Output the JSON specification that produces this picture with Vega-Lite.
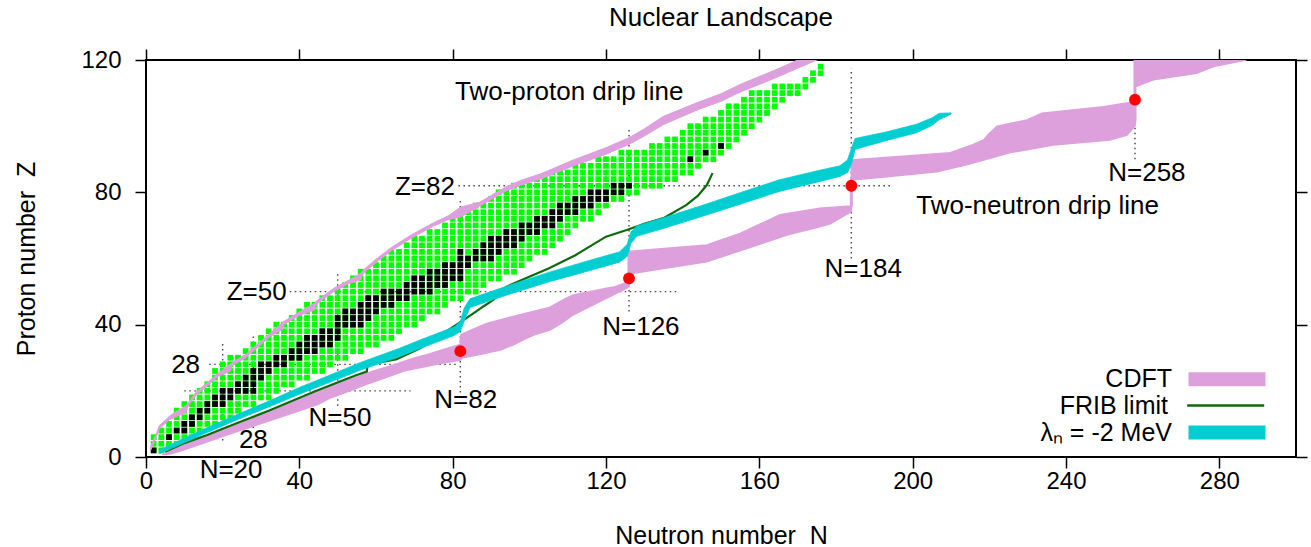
{
  "$schema": "https://vega.github.io/schema/vega-lite/v6.json",
  "width": 1150,
  "height": 397,
  "autosize": {"type": "none"},
  "padding": {"left": 146, "top": 60, "right": 15, "bottom": 90},
  "background": "white",
  "title": {"text": "Nuclear Landscape", "fontSize": 26, "font": "Liberation Sans", "fontWeight": "normal", "color": "#000", "anchor": "middle", "frame": "group", "offset": 17},
  "config": {
    "font": "Liberation Sans",
    "view": {"stroke": "#000", "strokeWidth": 2},
    "axis": {"labelFont": "Liberation Sans", "labelFontSize": 24, "labelColor": "#000", "titleFont": "Liberation Sans", "titleFontSize": 25, "titleFontWeight": "normal", "titleColor": "#000", "tickColor": "#000", "tickWidth": 1.5, "tickSize": 11, "domain": false, "grid": false}
  },
  "resolve": {"axis": {"x": "independent", "y": "independent"}},
  "datasets": {
    "known": [
      {"Z":2,"N":[2,4,6]},
      {"Z":4,"N":[2,4,6,8]},
      {"Z":6,"N":[2,4,6,8,10,12]},
      {"Z":8,"N":[4,6,8,10,12,14]},
      {"Z":10,"N":[6,8,10,12,14,16,18]},
      {"Z":12,"N":[8,10,12,14,16,18,20,22]},
      {"Z":14,"N":[8,10,12,14,16,18,20,22,24]},
      {"Z":16,"N":[10,12,14,16,18,20,22,24,26,28]},
      {"Z":18,"N":[12,14,16,18,20,22,24,26,28,30,32]},
      {"Z":20,"N":[14,16,18,20,22,24,26,28,30,32,34]},
      {"Z":22,"N":[16,18,20,22,24,26,28,30,32,34,36,38]},
      {"Z":24,"N":[18,20,22,24,26,28,30,32,34,36,38,40,42]},
      {"Z":26,"N":[18,20,22,24,26,28,30,32,34,36,38,40,42,44,46]},
      {"Z":28,"N":[20,22,24,26,28,30,32,34,36,38,40,42,44,46,48]},
      {"Z":30,"N":[22,24,26,28,30,32,34,36,38,40,42,44,46,48,50,52]},
      {"Z":32,"N":[26,28,30,32,34,36,38,40,42,44,46,48,50,52,54,56]},
      {"Z":34,"N":[28,30,32,34,36,38,40,42,44,46,48,50,52,54,56,58,60]},
      {"Z":36,"N":[30,32,34,36,38,40,42,44,46,48,50,52,54,56,58,60,62,64]},
      {"Z":38,"N":[32,34,36,38,40,42,44,46,48,50,52,54,56,58,60,62,64,66]},
      {"Z":40,"N":[34,36,38,40,42,44,46,48,50,52,54,56,58,60,62,64,66,68,70]},
      {"Z":42,"N":[38,40,42,44,46,48,50,52,54,56,58,60,62,64,66,68,70,72]},
      {"Z":44,"N":[40,42,44,46,48,50,52,54,56,58,60,62,64,66,68,70,72,74,76]},
      {"Z":46,"N":[42,44,46,48,50,52,54,56,58,60,62,64,66,68,70,72,74,76,78]},
      {"Z":48,"N":[46,48,50,52,54,56,58,60,62,64,66,68,70,72,74,76,78,80,82]},
      {"Z":50,"N":[50,52,54,56,58,60,62,64,66,68,70,72,74,76,78,80,82,84,86]},
      {"Z":52,"N":[52,54,56,58,60,62,64,66,68,70,72,74,76,78,80,82,84,86,88]},
      {"Z":54,"N":[54,56,58,60,62,64,66,68,70,72,74,76,78,80,82,84,86,88,90,92]},
      {"Z":56,"N":[56,58,60,62,64,66,68,70,72,74,76,78,80,82,84,86,88,90,92,94,96]},
      {"Z":58,"N":[60,62,64,66,68,70,72,74,76,78,80,82,84,86,88,90,92,94,96,98]},
      {"Z":60,"N":[62,64,66,68,70,72,74,76,78,80,82,84,86,88,90,92,94,96,98,100]},
      {"Z":62,"N":[64,66,68,70,72,74,76,78,80,82,84,86,88,90,92,94,96,98,100,102,104]},
      {"Z":64,"N":[68,70,72,74,76,78,80,82,84,86,88,90,92,94,96,98,100,102,104,106]},
      {"Z":66,"N":[70,72,74,76,78,80,82,84,86,88,90,92,94,96,98,100,102,104,106,108]},
      {"Z":68,"N":[74,76,78,80,82,84,86,88,90,92,94,96,98,100,102,104,106,108,110]},
      {"Z":70,"N":[78,80,82,84,86,88,90,92,94,96,98,100,102,104,106,108,110,112]},
      {"Z":72,"N":[80,82,84,86,88,90,92,94,96,98,100,102,104,106,108,110,112,114,116]},
      {"Z":74,"N":[84,86,88,90,92,94,96,98,100,102,104,106,108,110,112,114,116,118]},
      {"Z":76,"N":[86,88,90,92,94,96,98,100,102,104,106,108,110,112,114,116,118,120]},
      {"Z":78,"N":[90,92,94,96,98,100,102,104,106,108,110,112,114,116,118,120,122,124]},
      {"Z":80,"N":[92,94,96,98,100,102,104,106,108,110,112,114,116,118,120,122,124,126,128]},
      {"Z":82,"N":[96,98,100,102,104,106,108,110,112,114,116,118,120,122,124,126,128,130,132,134]},
      {"Z":84,"N":[102,104,106,108,110,112,114,116,118,120,122,124,126,128,130,132,134,136,138]},
      {"Z":86,"N":[106,108,110,112,114,116,118,120,122,124,126,128,130,132,134,136,138,140,142]},
      {"Z":88,"N":[112,114,116,118,120,122,124,126,128,130,132,134,136,138,140,142,144]},
      {"Z":90,"N":[118,120,122,124,126,128,130,132,134,136,138,140,142,144,146,148]},
      {"Z":92,"N":[124,126,128,130,132,134,136,138,140,142,144,146,148,150]},
      {"Z":94,"N":[132,134,136,138,140,142,144,146,148,150,152]},
      {"Z":96,"N":[136,138,140,142,144,146,148,150,152,154]},
      {"Z":98,"N":[140,142,144,146,148,150,152,154,156]},
      {"Z":100,"N":[142,144,146,148,150,152,154,156,158]},
      {"Z":102,"N":[146,148,150,152,154,156,158,160]},
      {"Z":104,"N":[150,152,154,156,158,160,162]},
      {"Z":106,"N":[152,154,156,158,160,162,164]},
      {"Z":108,"N":[156,158,160,162,164,166]},
      {"Z":110,"N":[158,160,162,164,166,168,170]},
      {"Z":112,"N":[164,166,168,170,172]},
      {"Z":114,"N":[172,174]},
      {"Z":116,"N":[174,176]},
      {"Z":118,"N":[176]}
    ],
    "stable": [
      {"Z":2,"N":[2]},
      {"Z":6,"N":[6]},
      {"Z":8,"N":[8,10]},
      {"Z":10,"N":[10,12]},
      {"Z":12,"N":[12,14]},
      {"Z":14,"N":[14,16]},
      {"Z":16,"N":[16,18,20]},
      {"Z":18,"N":[18,20,22]},
      {"Z":20,"N":[20,22,24,26,28]},
      {"Z":22,"N":[24,26,28]},
      {"Z":24,"N":[26,28,30]},
      {"Z":26,"N":[28,30,32]},
      {"Z":28,"N":[30,32,34,36]},
      {"Z":30,"N":[34,36,38,40]},
      {"Z":32,"N":[38,40,42,44]},
      {"Z":34,"N":[40,42,44,46,48]},
      {"Z":36,"N":[42,44,46,48,50]},
      {"Z":38,"N":[46,48,50]},
      {"Z":40,"N":[50,52,54,56]},
      {"Z":42,"N":[50,52,54,56,58]},
      {"Z":44,"N":[52,54,56,58,60]},
      {"Z":46,"N":[56,58,60,62,64]},
      {"Z":48,"N":[58,60,62,64,66,68]},
      {"Z":50,"N":[62,64,66,68,70,72,74]},
      {"Z":52,"N":[68,70,72,74,76,78]},
      {"Z":54,"N":[70,72,74,76,78,80,82]},
      {"Z":56,"N":[74,76,78,80,82]},
      {"Z":58,"N":[78,80,82,84]},
      {"Z":60,"N":[82,84,86,88,90]},
      {"Z":62,"N":[82,86,88,90,92]},
      {"Z":64,"N":[88,90,92,94,96]},
      {"Z":66,"N":[90,92,94,96,98]},
      {"Z":68,"N":[94,96,98,100,102]},
      {"Z":70,"N":[98,100,102,104,106]},
      {"Z":72,"N":[102,104,106,108]},
      {"Z":74,"N":[106,108,110,112]},
      {"Z":76,"N":[108,110,112,114,116]},
      {"Z":78,"N":[112,114,116,118,120]},
      {"Z":80,"N":[116,118,120,122,124]},
      {"Z":82,"N":[122,124,126]},
      {"Z":90,"N":[142]},
      {"Z":92,"N":[146]},
      {"Z":94,"N":[150]}
    ],
    "twoProton": [
      {"N":1.2,"lo":2.0,"hi":3.2},{"N":2.5,"lo":5.5,"hi":6.5},{"N":3.5,"lo":8.5,"hi":9.5},
      {"N":6,"lo":11.2,"hi":12.2},{"N":7.5,"lo":12,"hi":13.5},{"N":10.5,"lo":13.5,"hi":15.5},
      {"N":11,"lo":15.4,"hi":16.4},{"N":13,"lo":18.6,"hi":19.6},{"N":16,"lo":21.5,"hi":22.5},
      {"N":19,"lo":24.5,"hi":25.5},{"N":22,"lo":26,"hi":28},{"N":22.5,"lo":27.6,"hi":28.6},
      {"N":26,"lo":30,"hi":31},{"N":30,"lo":34,"hi":35},{"N":32.5,"lo":36.5,"hi":37.5},
      {"N":35.5,"lo":38.5,"hi":40.5},{"N":36,"lo":40,"hi":41},{"N":40,"lo":42.8,"hi":43.8},
      {"N":44,"lo":44.5,"hi":46.5},{"N":44.5,"lo":46.2,"hi":47.2},{"N":49,"lo":50,"hi":51},
      {"N":53,"lo":52.5,"hi":53.5},{"N":56,"lo":53.5,"hi":55.5},{"N":56.5,"lo":55.3,"hi":56.3},
      {"N":60,"lo":58.8,"hi":59.8},{"N":64,"lo":62.3,"hi":63.3},{"N":69,"lo":66,"hi":67},
      {"N":75,"lo":69.8,"hi":70.8},{"N":79,"lo":71.8,"hi":73},{"N":82,"lo":72.5,"hi":75.5},
      {"N":87,"lo":75.8,"hi":77},{"N":94,"lo":80.5,"hi":81.7},{"N":98,"lo":82.3,"hi":83.7},
      {"N":103,"lo":84,"hi":85.6},{"N":111.5,"lo":88,"hi":89.8},{"N":120,"lo":91.5,"hi":93.5},
      {"N":126,"lo":94.5,"hi":96.5},{"N":130,"lo":97,"hi":99.2},{"N":135,"lo":100.5,"hi":103},
      {"N":144,"lo":105,"hi":107.2},{"N":150,"lo":107.5,"hi":109.8},{"N":155,"lo":110.3,"hi":112.6},
      {"N":160,"lo":112.6,"hi":115},{"N":165,"lo":115,"hi":117.4},{"N":170,"lo":117.5,"hi":120},
      {"N":176,"lo":120.5,"hi":123}
    ],
    "twoNeutron": [
      {"Z":0.8,"lo":4.2,"hi":6},{"Z":2,"lo":6.5,"hi":9.5},{"Z":4,"lo":10.3,"hi":14.5},
      {"Z":6,"lo":15.4,"hi":19.5},{"Z":8,"lo":19.8,"hi":24.5},{"Z":10,"lo":24.3,"hi":29.6},
      {"Z":12,"lo":28.7,"hi":34.9},{"Z":14,"lo":32.9,"hi":40},{"Z":16,"lo":37.2,"hi":45},
      {"Z":18,"lo":41.5,"hi":48.4},{"Z":20,"lo":45.4,"hi":53.2},{"Z":22,"lo":49.7,"hi":57.5},
      {"Z":24,"lo":54.6,"hi":62.6},{"Z":26,"lo":59.4,"hi":67.2},{"Z":28,"lo":65,"hi":75.8},
      {"Z":29.3,"lo":68.4,"hi":82},{"Z":30,"lo":70.2,"hi":82.7},{"Z":31,"lo":73.5,"hi":87},
      {"Z":32.3,"lo":77,"hi":92.4},{"Z":33.3,"lo":80,"hi":94.5},{"Z":34,"lo":82,"hi":96},
      {"Z":36,"lo":82,"hi":99.5},{"Z":37,"lo":82.2,"hi":101.5},{"Z":38.4,"lo":84.9,"hi":105.4},
      {"Z":40.4,"lo":88.9,"hi":108.3},{"Z":43,"lo":97.6,"hi":111.5},{"Z":45.3,"lo":105.4,"hi":115.5},
      {"Z":48,"lo":109.6,"hi":120.2},{"Z":49,"lo":111.5,"hi":121.9},{"Z":51,"lo":120.2,"hi":125.3},
      {"Z":51.5,"lo":122.4,"hi":126},{"Z":53,"lo":125.8,"hi":126.4},{"Z":55.5,"lo":125.8,"hi":126.8},
      {"Z":57,"lo":125.8,"hi":135},{"Z":59,"lo":125.8,"hi":146.3},{"Z":62.1,"lo":125.8,"hi":154.3},
      {"Z":64.1,"lo":146.3,"hi":159.5},{"Z":67.1,"lo":153.8,"hi":167.2},{"Z":67.6,"lo":155,"hi":169},
      {"Z":69.6,"lo":158.7,"hi":175.8},{"Z":70.5,"lo":160.4,"hi":178.5},{"Z":73.2,"lo":165.4,"hi":182.5},
      {"Z":74.2,"lo":170.6,"hi":184},{"Z":75.2,"lo":175.8,"hi":184},{"Z":75.9,"lo":183.8,"hi":184.2},
      {"Z":83.7,"lo":183.8,"hi":184.2},{"Z":84.7,"lo":184,"hi":193.3},{"Z":86.2,"lo":184,"hi":206.3},
      {"Z":88.3,"lo":184,"hi":214.1},{"Z":89.8,"lo":184,"hi":218.5},{"Z":92,"lo":209.8,"hi":225.5},
      {"Z":94.3,"lo":215.5,"hi":236.7},{"Z":95.8,"lo":218.5,"hi":251.5},{"Z":97.3,"lo":219.6,"hi":255.9},
      {"Z":100,"lo":222,"hi":258},{"Z":101.9,"lo":229.8,"hi":258.2},{"Z":103.9,"lo":233.7,"hi":258.2},
      {"Z":105.9,"lo":249.8,"hi":258.2},{"Z":107.4,"lo":257.8,"hi":258.2},{"Z":112,"lo":257.8,"hi":258.2},
      {"Z":114,"lo":257.8,"hi":262.8},{"Z":116,"lo":257.8,"hi":274.1},{"Z":118,"lo":257.8,"hi":278.5},
      {"Z":120,"lo":257.8,"hi":287}
    ],
    "lambda": [
      {"N":3.5,"lo":1.0,"hi":2.2},{"N":10,"lo":4.3,"hi":5.7},{"N":16,"lo":7.4,"hi":8.9},
      {"N":24.5,"lo":11.6,"hi":13.2},{"N":33,"lo":15.6,"hi":17.4},{"N":40,"lo":19.0,"hi":21.0},
      {"N":50.6,"lo":23.8,"hi":26},{"N":56,"lo":26.3,"hi":28.6},{"N":66,"lo":30.3,"hi":32.8},
      {"N":72,"lo":33,"hi":35.6},{"N":80.5,"lo":36.8,"hi":39.4},{"N":82,"lo":38,"hi":41},
      {"N":83,"lo":41,"hi":45},{"N":84.5,"lo":45.2,"hi":47.8},{"N":95,"lo":49.3,"hi":52},
      {"N":105,"lo":52.9,"hi":55.8},{"N":115,"lo":56.1,"hi":59.2},{"N":123.5,"lo":58.9,"hi":62},
      {"N":125.5,"lo":60.6,"hi":64.2},{"N":126.5,"lo":64.5,"hi":68},{"N":128,"lo":66.7,"hi":69.8},
      {"N":135,"lo":69.1,"hi":72.3},{"N":145,"lo":72.7,"hi":76},{"N":155,"lo":76.4,"hi":79.9},
      {"N":165,"lo":80.2,"hi":83.7},{"N":175.8,"lo":83.3,"hi":86.7},{"N":181,"lo":84.8,"hi":88},
      {"N":183,"lo":86,"hi":89.8},{"N":184,"lo":88.5,"hi":93.2},{"N":185,"lo":93,"hi":96.3},
      {"N":193,"lo":95.6,"hi":98.2},{"N":201,"lo":98,"hi":100.6},{"N":205,"lo":100.2,"hi":102.5},
      {"N":207,"lo":102,"hi":103.9},{"N":210,"lo":103.6,"hi":104}
    ],
    "frib": [
      {"N":5,"Z":1.6},{"N":10,"Z":4.2},{"N":15.8,"Z":6.6},{"N":21,"Z":9},{"N":27,"Z":11.7},
      {"N":32,"Z":14},{"N":37.6,"Z":16.7},{"N":44,"Z":19.8},{"N":50.6,"Z":22.8},{"N":55,"Z":24.8},
      {"N":57.6,"Z":25.8},{"N":57.8,"Z":28},{"N":61,"Z":28.6},{"N":65.4,"Z":29.6},{"N":71.5,"Z":32.9},
      {"N":75,"Z":35.4},{"N":80.2,"Z":39.4},{"N":83,"Z":41.5},{"N":85.4,"Z":43.4},{"N":88,"Z":45.5},
      {"N":90.6,"Z":47.5},{"N":94.1,"Z":51.5},{"N":98,"Z":53.5},{"N":105,"Z":57},{"N":112,"Z":61},
      {"N":120,"Z":66.6},{"N":125.4,"Z":68.6},{"N":130,"Z":70.5},{"N":135,"Z":72.2},{"N":141,"Z":76.2},
      {"N":144,"Z":79},{"N":146.3,"Z":82.2},{"N":147.8,"Z":85.8}
    ],
    "magic": [
      {"n1":10,"z1":20,"n2":69,"z2":20},
      {"n1":16.5,"z1":28,"n2":81,"z2":28},
      {"n1":37.5,"z1":50,"n2":139,"z2":50},
      {"n1":81.5,"z1":82,"n2":195,"z2":82},
      {"n1":20,"z1":5,"n2":20,"z2":35},
      {"n1":28,"z1":8.8,"n2":28,"z2":37},
      {"n1":50,"z1":15.5,"n2":50,"z2":55.5},
      {"n1":82,"z1":19.5,"n2":82,"z2":78},
      {"n1":126,"z1":44,"n2":126,"z2":99.5},
      {"n1":184,"z1":60,"n2":184,"z2":117.5},
      {"n1":258,"z1":90,"n2":258,"z2":120}
    ],
    "dots": [
      {"N":82,"Z":32},{"N":126,"Z":54},{"N":184,"Z":82},{"N":258,"Z":108}
    ],
    "labelsCenter": [
      {"N":110.4,"Z":110.2,"t":"Two-proton drip line"},
      {"N":232.6,"Z":75.8,"t":"Two-neutron drip line"},
      {"N":28,"Z":5.1,"t":"28"},
      {"N":22.2,"Z":-3.9,"t":"N=20"},
      {"N":50.6,"Z":11.7,"t":"N=50"},
      {"N":83.4,"Z":17.2,"t":"N=82"},
      {"N":129.1,"Z":39.3,"t":"N=126"},
      {"N":187.1,"Z":56.8,"t":"N=184"},
      {"N":261.1,"Z":85.9,"t":"N=258"}
    ],
    "labelsRight": [
      {"N":80.6,"Z":81.6,"t":"Z=82"},
      {"N":36.7,"Z":50,"t":"Z=50"},
      {"N":14.1,"Z":27.8,"t":"28"}
    ]
  },
  "layer": [
    {
      "data": {"name": "magic"},
      "mark": {"type": "rule", "strokeDash": [1.5, 3.5], "color": "#444", "strokeWidth": 1.4},
      "encoding": {
        "x": {"field": "n1", "type": "quantitative", "scale": {"domain": [0, 300], "nice": false, "zero": false}, "axis": {"orient": "bottom", "values": [0,40,80,120,160,200,240,280], "title": "Neutron number\u00a0\u00a0N", "labelPadding": 1, "titlePadding": 30, "labelFlush": false, "labelOverlap": false}},
        "x2": {"field": "n2"},
        "y": {"field": "z1", "type": "quantitative", "scale": {"domain": [0, 120], "nice": false, "zero": false}, "axis": {"orient": "left", "values": [0,40,80,120], "title": "Proton number\u00a0\u00a0Z", "labelPadding": 14, "titlePadding": 41, "labelFlush": false}},
        "y2": {"field": "z2"}
      }
    },
    {
      "data": {"name": "known"},
      "transform": [{"flatten": ["N"]}],
      "mark": {"type": "square", "size": 33, "color": "#00ff00", "opacity": 1, "strokeWidth": 0},
      "encoding": {
        "x": {"field": "N", "type": "quantitative", "scale": {"domain": [0, 300], "nice": false, "zero": false}, "axis": {"orient": "top", "values": [0,40,80,120,160,200,240,280], "labels": false, "title": null}},
        "y": {"field": "Z", "type": "quantitative", "scale": {"domain": [0, 120], "nice": false, "zero": false}, "axis": {"orient": "right", "values": [0,40,80,120], "labels": false, "title": null}}
      }
    },
    {
      "data": {"name": "stable"},
      "transform": [{"flatten": ["N"]}],
      "mark": {"type": "square", "size": 33, "color": "#000000", "opacity": 1, "strokeWidth": 0},
      "encoding": {
        "x": {"field": "N", "type": "quantitative", "scale": {"domain": [0, 300], "nice": false, "zero": false}, "axis": null},
        "y": {"field": "Z", "type": "quantitative", "scale": {"domain": [0, 120], "nice": false, "zero": false}, "axis": null}
      }
    },
    {
      "data": {"name": "twoProton"},
      "mark": {"type": "area", "orient": "vertical", "clip": true, "stroke": "#dda0dd", "strokeWidth": 1, "opacity": 1},
      "encoding": {
        "x": {"field": "N", "type": "quantitative", "scale": {"domain": [0, 300], "nice": false, "zero": false}, "axis": null},
        "y": {"field": "lo", "type": "quantitative", "scale": {"domain": [0, 120], "nice": false, "zero": false}, "axis": null},
        "y2": {"field": "hi"},
        "fill": {"datum": "CDFT", "type": "nominal", "scale": {"domain": ["CDFT"], "range": ["#dda0dd"]},
          "legend": {"title": null, "orient": "none", "legendX": 1068.5, "legendY": 306.7, "direction": "vertical", "labelFont": "Liberation Sans", "labelFontSize": 25, "labelColor": "#000", "labelAlign": "right", "labelOffset": -67.5, "labelBaseline": "middle", "labelLimit": 400, "symbolSize": 100, "padding": 0, "symbolType": "M-7.7,-1.4H7.7V1.4H-7.7Z", "symbolStrokeWidth": 0, "symbolOpacity": 1}
        }
      }
    },
    {
      "data": {"name": "twoNeutron"},
      "mark": {"type": "area", "orient": "horizontal", "clip": true, "stroke": "#dda0dd", "strokeWidth": 1.5, "opacity": 1},
      "encoding": {
        "y": {"field": "Z", "type": "quantitative", "scale": {"domain": [0, 120], "nice": false, "zero": false}, "axis": null},
        "x": {"field": "lo", "type": "quantitative", "scale": {"domain": [0, 300], "nice": false, "zero": false}, "axis": null},
        "x2": {"field": "hi"},
        "fill": {"datum": "CDFT", "type": "nominal", "scale": {"domain": ["CDFT"], "range": ["#dda0dd"]},
          "legend": {"title": null, "orient": "none", "legendX": 1068.5, "legendY": 306.7, "direction": "vertical", "labelFont": "Liberation Sans", "labelFontSize": 25, "labelColor": "#000", "labelAlign": "right", "labelOffset": -67.5, "labelBaseline": "middle", "labelLimit": 400, "symbolSize": 100, "padding": 0, "symbolType": "M-7.7,-1.4H7.7V1.4H-7.7Z", "symbolStrokeWidth": 0, "symbolOpacity": 1}
        }
      }
    },
    {
      "data": {"name": "frib"},
      "mark": {"type": "line", "strokeWidth": 2.2, "clip": true},
      "encoding": {
        "x": {"field": "N", "type": "quantitative", "scale": {"domain": [0, 300], "nice": false, "zero": false}, "axis": null},
        "y": {"field": "Z", "type": "quantitative", "scale": {"domain": [0, 120], "nice": false, "zero": false}, "axis": null},
        "stroke": {"datum": "FRIB limit", "type": "nominal", "scale": {"domain": ["FRIB limit"], "range": ["#0b6b0b"]},
          "legend": {"title": null, "orient": "none", "legendX": 1067.2, "legendY": 333, "direction": "vertical", "labelFont": "Liberation Sans", "labelFontSize": 25, "labelColor": "#000", "labelAlign": "right", "labelOffset": -70.2, "labelBaseline": "middle", "labelLimit": 400, "symbolSize": 100, "padding": 0, "symbolType": "M-7.7,0H7.7", "symbolStrokeWidth": 2.7, "symbolOpacity": 1}
        }
      }
    },
    {
      "data": {"name": "lambda"},
      "mark": {"type": "area", "orient": "vertical", "clip": true, "stroke": "#00ced1", "strokeWidth": 0.8, "opacity": 1},
      "encoding": {
        "x": {"field": "N", "type": "quantitative", "scale": {"domain": [0, 300], "nice": false, "zero": false}, "axis": null},
        "y": {"field": "lo", "type": "quantitative", "scale": {"domain": [0, 120], "nice": false, "zero": false}, "axis": null},
        "y2": {"field": "hi"},
        "color": {"datum": "λₙ = -2 MeV", "type": "nominal", "scale": {"domain": ["λₙ = -2 MeV"], "range": ["#00ced1"]},
          "legend": {"title": null, "orient": "none", "legendX": 1068.5, "legendY": 360, "direction": "vertical", "labelFont": "Liberation Sans", "labelFontSize": 25, "labelColor": "#000", "labelAlign": "right", "labelOffset": -67.5, "labelBaseline": "middle", "labelLimit": 400, "symbolSize": 100, "padding": 0, "symbolType": "M-7.7,-1.4H7.7V1.4H-7.7Z", "symbolStrokeWidth": 0, "symbolOpacity": 1}
        }
      }
    },
    {
      "data": {"name": "dots"},
      "mark": {"type": "circle", "size": 140, "color": "#ff0000", "opacity": 1},
      "encoding": {
        "x": {"field": "N", "type": "quantitative", "scale": {"domain": [0, 300], "nice": false, "zero": false}, "axis": null},
        "y": {"field": "Z", "type": "quantitative", "scale": {"domain": [0, 120], "nice": false, "zero": false}, "axis": null}
      }
    },
    {
      "data": {"name": "labelsCenter"},
      "mark": {"type": "text", "font": "Liberation Sans", "fontSize": 26, "color": "#000", "align": "center", "baseline": "middle"},
      "encoding": {
        "x": {"field": "N", "type": "quantitative", "scale": {"domain": [0, 300], "nice": false, "zero": false}, "axis": null},
        "y": {"field": "Z", "type": "quantitative", "scale": {"domain": [0, 120], "nice": false, "zero": false}, "axis": null},
        "text": {"field": "t"}
      }
    },
    {
      "data": {"name": "labelsRight"},
      "mark": {"type": "text", "font": "Liberation Sans", "fontSize": 26, "color": "#000", "align": "right", "baseline": "middle"},
      "encoding": {
        "x": {"field": "N", "type": "quantitative", "scale": {"domain": [0, 300], "nice": false, "zero": false}, "axis": null},
        "y": {"field": "Z", "type": "quantitative", "scale": {"domain": [0, 120], "nice": false, "zero": false}, "axis": null},
        "text": {"field": "t"}
      }
    }
  ]
}
